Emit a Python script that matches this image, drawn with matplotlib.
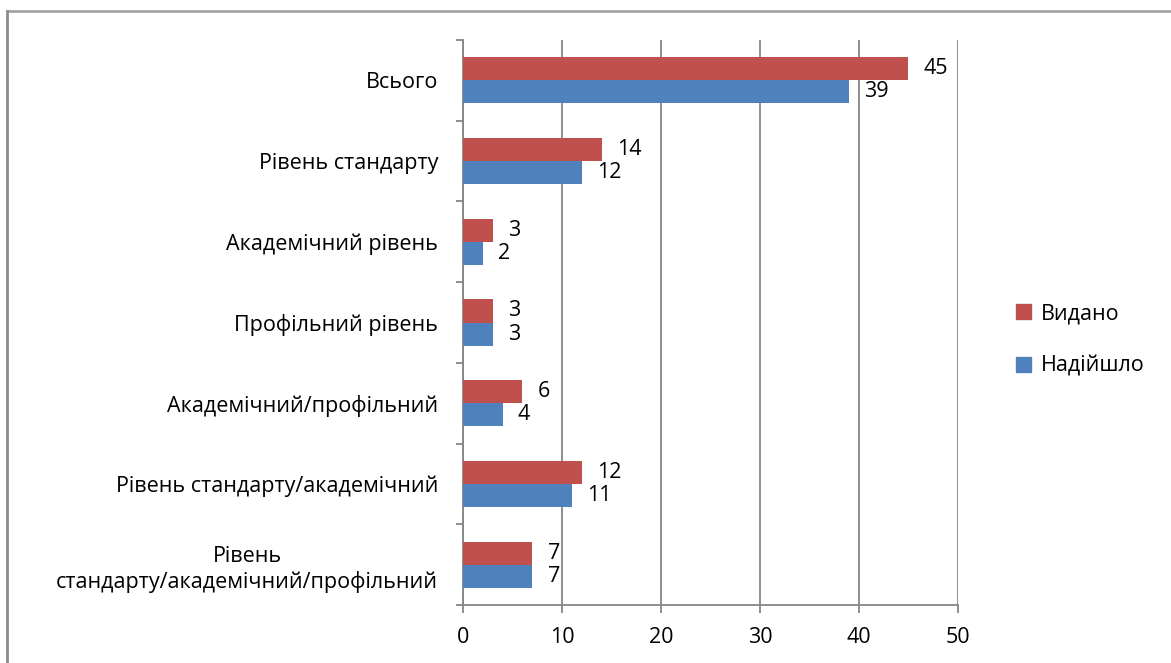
import matplotlib
matplotlib.use("Agg")
import matplotlib.pyplot as plt
import numpy as np
from matplotlib.patches import Rectangle
from matplotlib.lines import Line2D

plt.rcParams['font.family'] = ['Open Sans', 'DejaVu Sans']

categories = ["Всього", "Рівень стандарту", "Академічний рівень", "Профільний рівень",
              "Академічний/профільний", "Рівень стандарту/академічний",
              "Рівень\nстандарту/академічний/профільний"]
vydano = [45, 14, 3, 3, 6, 12, 7]
nadiishlo = [39, 12, 2, 3, 4, 11, 7]
series_names = ["Видано", "Надійшло"]
xticks = [0, 10, 20, 30, 40, 50]

RED = "#C0504D"
BLUE = "#4F81BD"
GRID = "#868686"
FS = 15.5

fig = plt.figure(figsize=(11.71, 6.63), dpi=100)
ax = fig.add_axes([463/1171, 1-605/663, (958-463)/1171, (605-40)/663])

n = len(categories)
y = np.arange(n)
h = 0.285
ax.barh(y - h/2, vydano, height=h, color=RED, label=series_names[0], zorder=3)
ax.barh(y + h/2, nadiishlo, height=h, color=BLUE, label=series_names[1], zorder=3)

for yi, v in zip(y, vydano):
    ax.annotate(str(v), (v, yi - h/2), xytext=(11, 0), textcoords='offset points',
                va='center', ha='left', fontsize=FS, color='black')
for yi, v in zip(y, nadiishlo):
    ax.annotate(str(v), (v, yi + h/2), xytext=(11, 0), textcoords='offset points',
                va='center', ha='left', fontsize=FS, color='black')

ax.set_ylim(n - 0.5, -0.5)
ax.set_xlim(0, 50)
ax.set_xticks(xticks)
ax.set_xticklabels([str(t) for t in xticks], fontsize=FS)
ax.set_yticks(y)
ax.set_yticklabels(categories, fontsize=FS, ha='right', multialignment='center',
                   linespacing=1.25)
ax.set_yticks(np.arange(n + 1) - 0.5, minor=True)
ax.tick_params(axis='y', which='major', length=0, pad=18)
ax.tick_params(axis='y', which='minor', length=5, color=GRID, width=1.3)
ax.tick_params(axis='x', which='major', length=6, color=GRID, width=1.3, pad=10)

ax.grid(axis='x', color=GRID, linewidth=1.3, zorder=0)
for s in ['top', 'right']:
    ax.spines[s].set_visible(False)
for s in ['left', 'bottom']:
    ax.spines[s].set_color(GRID)
    ax.spines[s].set_linewidth(1.3)

handles = [Rectangle((0, 0), 1, 1, color=RED), Rectangle((0, 0), 1, 1, color=BLUE)]
fig.legend(handles, series_names, loc='center left', bbox_to_anchor=(997/1171, 1-340/663),
           frameon=False, fontsize=FS, handlelength=0.7, handleheight=0.7,
           handletextpad=0.45, labelspacing=1.45)

# outer frame (top and left visible)
fig.add_artist(Line2D([7/1171, 1.0], [1-11/663, 1-11/663], color="#A6A6A6", lw=2,
                      transform=fig.transFigure))
fig.add_artist(Line2D([7/1171, 7/1171], [0, 1-11/663], color="#8C8C8C", lw=2,
                      transform=fig.transFigure))

fig.savefig("out.png", dpi=100)
